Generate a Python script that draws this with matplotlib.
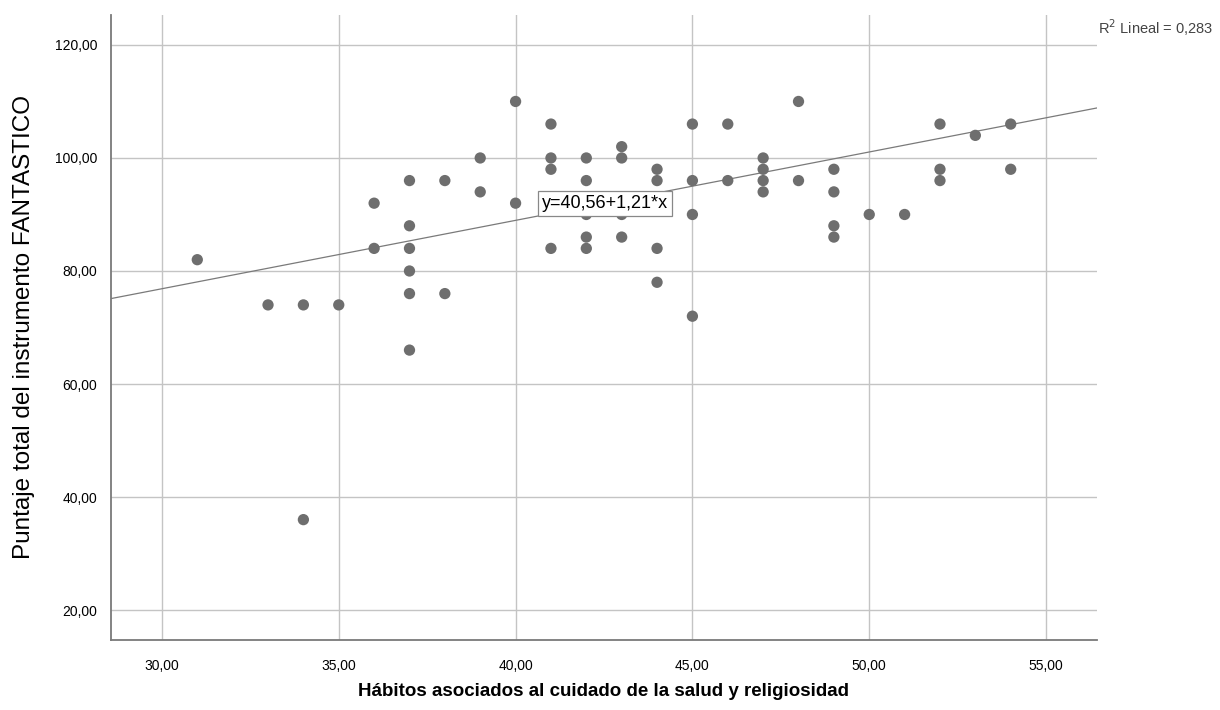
import matplotlib
matplotlib.use("Agg")
import matplotlib.pyplot as plt
import numpy as np

plt.rcParams['font.family'] = ['Liberation Sans', 'DejaVu Sans']

# Data (x: hábitos, y: puntaje FANTASTICO)
x_vals = [31, 33, 34, 34, 35,
          36, 36,
          37, 37, 37, 37, 37, 37,
          38, 38, 39, 39, 40, 40,
          41, 41, 41, 41,
          42, 42, 42, 42, 42,
          43, 43, 43, 43,
          44, 44, 44, 44,
          45, 45, 45, 45,
          46, 46,
          47, 47, 47, 47,
          48, 48,
          49, 49, 49, 49,
          50, 51,
          52, 52, 52,
          53, 54, 54]
y_vals = [82, 74, 74, 36, 74,
          92, 84,
          96, 88, 84, 80, 76, 66,
          96, 76, 100, 94, 110, 92,
          106, 100, 98, 84,
          100, 96, 90, 86, 84,
          102, 100, 90, 86,
          98, 96, 84, 78,
          106, 96, 90, 72,
          106, 96,
          100, 98, 96, 94,
          110, 96,
          98, 94, 88, 86,
          90, 90,
          106, 98, 96,
          104, 106, 98]

intercept = 40.56
slope = 1.21
r2_text = "R$^2$ Lineal = 0,283"
eq_text = "y=40,56+1,21*x"

x_ticks = [30, 35, 40, 45, 50, 55]
x_tick_labels = ["30,00", "35,00", "40,00", "45,00", "50,00", "55,00"]
y_ticks = [20, 40, 60, 80, 100, 120]
y_tick_labels = ["20,00", "40,00", "60,00", "80,00", "100,00", "120,00"]

x_label = "Hábitos asociados al cuidado de la salud y religiosidad"
y_label = "Puntaje total del instrumento FANTASTICO"

fig = plt.figure(figsize=(12.2, 7.1), dpi=100)
ax = fig.add_axes([111/1220, 1 - 640/710, (1097 - 111)/1220, (640 - 15)/710])

xlim = (28.56, 56.44)
ylim = (14.7, 125.3)
ax.set_xlim(*xlim)
ax.set_ylim(*ylim)

ax.grid(True, color='#c4c4c4', linewidth=1.0)
ax.set_axisbelow(True)

ax.scatter(x_vals, y_vals, s=66, color='#6e6e6e', edgecolors='none', zorder=3)

xx = np.array(xlim)
ax.plot(xx, intercept + slope * xx, color='#7a7a7a', linewidth=0.9, zorder=2)

ax.text(42.52, 91.9, eq_text, fontsize=13, ha='center', va='center', zorder=5,
        bbox=dict(boxstyle='square,pad=0.22', facecolor='white', edgecolor='#888888', linewidth=0.9))

ax.set_xticks(x_ticks)
ax.set_xticklabels(x_tick_labels, fontsize=10)
ax.set_yticks(y_ticks)
ax.set_yticklabels(y_tick_labels, fontsize=10)
ax.tick_params(axis='x', length=0, pad=14)
ax.tick_params(axis='y', length=0, pad=10)

for side in ['top', 'right']:
    ax.spines[side].set_visible(False)
for side in ['left', 'bottom']:
    ax.spines[side].set_color('#7a7a7a')
    ax.spines[side].set_linewidth(1.3)

fig.text(604/1220, 1 - 691/710, x_label, fontsize=13.5, fontweight='bold', ha='center', va='center')
fig.text(24/1220, 1 - 327/710, y_label, fontsize=17.5, rotation=90, ha='center', va='center')

fig.text(1098/1220, 1 - 28/710, r2_text, fontsize=10.5, ha='left', va='center', color='#444444')

fig.savefig("out.png", dpi=100, facecolor='white')
